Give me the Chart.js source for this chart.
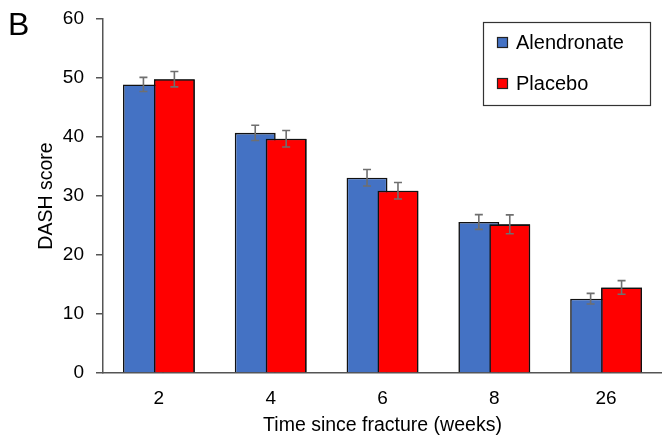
<!DOCTYPE html>
<html>
<head>
<meta charset="utf-8">
<script src="https://cdn.jsdelivr.net/npm/chart.js@4.4.1/dist/chart.umd.min.js"></script>
<style>
  body { margin: 0; background: #fff; }
  #wrap { position: relative; width: 662px; height: 437px; }
  #panel { position: absolute; left: 8px; top: 6px; font: 32px "Liberation Sans", Arial, sans-serif; color: #000; }
</style>
</head>
<body>
<div id="wrap">
  <canvas id="myBarChart" width="662" height="437"></canvas>
  <div id="panel">B</div>
</div>
<script>
// chart values
var weeks = ['2', '4', '6', '8', '26'];
var alendronate = [48.9, 40.7, 33.1, 25.6, 12.6];
var alendronateErr = [1.2, 1.3, 1.4, 1.25, 0.9];
var placebo = [49.8, 39.7, 30.9, 25.2, 14.5];
var placeboErr = [1.3, 1.4, 1.4, 1.6, 1.15];
var yTicks = [0, 10, 20, 30, 40, 50, 60];

var fontName = '"Liberation Sans", Arial, sans-serif';
var errs = [alendronateErr, placeboErr];

// redraw the red bars on top and add the error bars + legend box
var extras = {
  id: 'extras',
  afterDatasetsDraw: function(chart) {
    var ctx = chart.ctx;
    chart.getDatasetMeta(1).controller.draw();
    var yScale = chart.scales.y;
    ctx.save();
    ctx.strokeStyle = '#6f6f6f';
    ctx.lineWidth = 1.6;
    for (var d = 0; d < 2; d++) {
      var meta = chart.getDatasetMeta(d);
      var vals = chart.data.datasets[d].data;
      meta.data.forEach(function(bar, i) {
        var top = yScale.getPixelForValue(vals[i] + errs[d][i]);
        var bot = yScale.getPixelForValue(vals[i] - errs[d][i]);
        var x = bar.x;
        ctx.beginPath();
        ctx.moveTo(x, top); ctx.lineTo(x, bot);
        ctx.moveTo(x - 4, top); ctx.lineTo(x + 4, top);
        ctx.moveTo(x - 4, bot); ctx.lineTo(x + 4, bot);
        ctx.stroke();
      });
    }
    ctx.restore();
  },
  afterDraw: function(chart) {
    var ctx = chart.ctx;
    ctx.save();
    ctx.strokeStyle = '#333';
    ctx.lineWidth = 1.2;
    ctx.strokeRect(483.5, 22.5, 167, 83);
    ctx.font = '20px ' + fontName;
    ctx.textBaseline = 'middle';
    chart.data.datasets.forEach(function(ds, i) {
      var cy = 42 + i * 41;
      ctx.fillStyle = ds.backgroundColor;
      ctx.fillRect(497, cy - 5, 11, 11);
      ctx.strokeStyle = '#222';
      ctx.strokeRect(497.5, cy - 4.5, 10, 10);
      ctx.fillStyle = '#000';
      ctx.fillText(ds.label, 516, cy + 1);
    });
    ctx.restore();
  }
};

var ctx = document.getElementById('myBarChart').getContext('2d');
var chart = new Chart(ctx, {
  type: 'bar',
  data: {
    labels: weeks,
    datasets: [{
      label: 'Alendronate',
      data: alendronate,
      backgroundColor: '#4472C4',
      borderColor: '#111',
      borderWidth: 1.6
    }, {
      label: 'Placebo',
      data: placebo,
      backgroundColor: '#FF0000',
      borderColor: '#111',
      borderWidth: 1.6
    }]
  },
  options: {
    responsive: false,
    animation: false,
    categoryPercentage: 62 / 112,
    barPercentage: 41 / 31,
    layout: { padding: { top: 19, right: 0, left: 0, bottom: 0 } },
    plugins: {
      legend: { display: false },
      tooltip: { enabled: false }
    },
    scales: {
      x: {
        grid: { display: false },
        border: { color: '#555', width: 1.5 },
        ticks: { color: '#000', font: { family: fontName, size: 19 }, padding: 6 },
        title: { display: true, text: 'Time since fracture (weeks)', color: '#000', font: { family: fontName, size: 19.5 }, padding: { top: 0, bottom: 0 } },
        afterFit: function(scale) {
          scale.height = 64;
          scale.paddingLeft = 0;
          scale.paddingRight = 0;
        }
      },
      y: {
        min: 0,
        max: 60,
        afterBuildTicks: function(scale) { scale.ticks = yTicks.map(function(v) { return { value: v }; }); },
        grid: { drawOnChartArea: false, drawTicks: true, tickLength: 7, color: '#555', lineWidth: 1.5 },
        border: { color: '#555', width: 1.5 },
        ticks: { color: '#000', font: { family: fontName, size: 19 }, padding: 12 },
        title: { display: true, text: 'DASH score', color: '#000', font: { family: fontName, size: 19.5 }, padding: { top: 35, bottom: 0 } },
        afterFit: function(scale) {
          scale.width = 103;
          scale.paddingTop = 0;
          scale.paddingBottom = 0;
        }
      }
    }
  },
  plugins: [extras]
});
</script>
</body>
</html>
